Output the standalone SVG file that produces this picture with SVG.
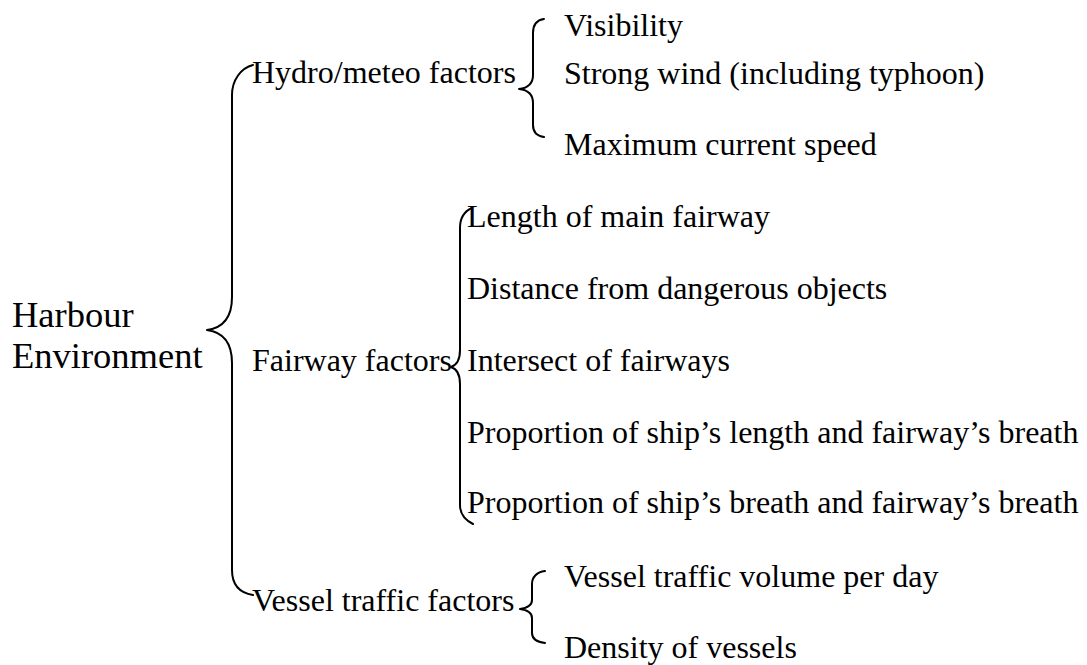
<svg xmlns="http://www.w3.org/2000/svg" width="1087" height="665" viewBox="0 0 1087 665">
  <style>
    text { font-family: "Liberation Serif", "Times New Roman", serif; fill: #000; }
    .root { font-size: 36.5px; }
    .lbl { font-size: 32px; }
    .brace { fill: none; stroke: #000; stroke-width: 2; stroke-linecap: round; stroke-linejoin: round; }
  </style>
  <rect width="1087" height="665" fill="#fff"/>

  <!-- curly braces linking each level -->
  <g id="connectors">
    <path class="brace" d="M253,65 C241,68 232,80 232,95 L232,297 C232,318 222,328 207,330 C222,332 232,342 232,363 L232,570 C232,585 240,593 253,595"/>
    <path class="brace" d="M544,19 C537,20 533,25 533,33 L533,75 C533,83 528,88 519,89 C528,90 533,95 533,103 L533,125 C533,132 537,136 544,137"/>
    <path class="brace" d="M472,208 C465,211 460,218 460,228 L460,350 C460,360 457,365 451,367 C457,369 460,374 460,384 L460,505 C460,514 465,520 473,524"/>
    <path class="brace" d="M545,571 C537,572 532,577 532,584 L532,600 C532,605 527,608 520,609 C527,610 532,613 532,618 L532,633 C532,639 537,642 545,643"/>
  </g>

  <g id="harbour-environment">
    <text class="root" x="12" y="327">Harbour</text>
    <text class="root" x="12" y="368">Environment</text>
  </g>

  <g id="hydro-meteo">
    <text class="lbl" x="252" y="83">Hydro/meteo factors</text>
  </g>
  <g id="hydro-items">
    <text class="lbl" x="564" y="36">Visibility</text>
    <text class="lbl" x="564" y="84">Strong wind (including typhoon)</text>
    <text class="lbl" x="564" y="155">Maximum current speed</text>
  </g>

  <g id="fairway">
    <text class="lbl" x="252" y="371">Fairway factors</text>
  </g>
  <g id="fairway-items">
    <text class="lbl" x="467" y="227">Length of main fairway</text>
    <text class="lbl" x="467" y="299">Distance from dangerous objects</text>
    <text class="lbl" x="467" y="371">Intersect of fairways</text>
    <text class="lbl" x="467" y="443">Proportion of ship’s length and fairway’s breath</text>
    <text class="lbl" x="467" y="513">Proportion of ship’s breath and fairway’s breath</text>
  </g>

  <g id="vessel-traffic">
    <text class="lbl" x="252" y="611">Vessel traffic factors</text>
  </g>
  <g id="vessel-items">
    <text class="lbl" x="564" y="587">Vessel traffic volume per day</text>
    <text class="lbl" x="564" y="658">Density of vessels</text>
  </g>
</svg>
